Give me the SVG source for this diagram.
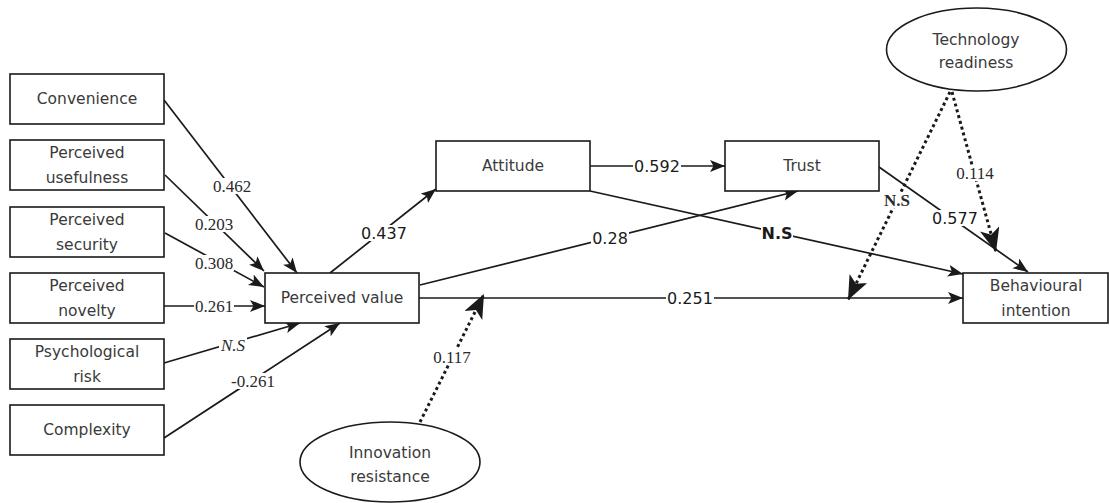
<svg xmlns="http://www.w3.org/2000/svg" width="1110" height="503" viewBox="0 0 1110 503">
<style>
.box{fill:#fff;stroke:#1a1a1a;stroke-width:1.6}
.nt{font-family:"DejaVu Sans",sans-serif;font-size:15.5px;fill:#3a3a3a;text-anchor:middle;dominant-baseline:central}
.ln{fill:none;stroke:#1a1a1a;stroke-width:1.7}
.dot{fill:none;stroke:#1a1a1a;stroke-width:3;stroke-dasharray:3 3}
.bg{fill:#fff}
.ls{font-family:"DejaVu Sans",sans-serif;font-size:16px;fill:#1a1a1a;text-anchor:middle;dominant-baseline:central}
.lr{font-family:"Liberation Serif",serif;font-size:17px;fill:#2a2a2a;text-anchor:middle;dominant-baseline:central}
</style>
<defs>
<marker id="a" markerUnits="userSpaceOnUse" markerWidth="16" markerHeight="14" refX="15" refY="6" orient="auto"><path d="M0,0 L15,6 L0,12 L3.5,6 z" fill="#1a1a1a"/></marker>
<marker id="b" markerUnits="userSpaceOnUse" markerWidth="26" markerHeight="22" refX="24" refY="10" orient="auto"><path d="M0,0 L24,10 L0,20 L6,10 z" fill="#1a1a1a"/></marker>
</defs>
<rect width="1110" height="503" fill="#fff"/>
<g id="connectors">
<line class="ln" x1="164" y1="100" x2="297" y2="273" marker-end="url(#a)"/>
<line class="ln" x1="165" y1="175" x2="264" y2="271" marker-end="url(#a)"/>
<line class="ln" x1="165" y1="233" x2="264" y2="287" marker-end="url(#a)"/>
<line class="ln" x1="164" y1="306" x2="265" y2="306" marker-end="url(#a)"/>
<line class="ln" x1="164" y1="363" x2="300" y2="323" marker-end="url(#a)"/>
<line class="ln" x1="164" y1="438" x2="340" y2="323" marker-end="url(#a)"/>
<line class="ln" x1="330" y1="273" x2="436" y2="189" marker-end="url(#a)"/>
<line class="ln" x1="590" y1="166" x2="725" y2="166" marker-end="url(#a)"/>
<line class="ln" x1="420" y1="285" x2="798" y2="191" marker-end="url(#a)"/>
<line class="ln" x1="590" y1="191" x2="963" y2="274" marker-end="url(#a)"/>
<line class="ln" x1="419" y1="298" x2="963" y2="298" marker-end="url(#a)"/>
<line class="ln" x1="879" y1="167" x2="1028" y2="272" marker-end="url(#a)"/>
<line class="dot" x1="952" y1="92" x2="996" y2="252" marker-end="url(#b)"/>
<line class="dot" x1="950" y1="92" x2="848" y2="300" marker-end="url(#b)"/>
<line class="dot" x1="420" y1="422" x2="484" y2="294" marker-end="url(#b)"/>
<rect class="bg" x="212" y="178" width="40" height="16"/>
<rect class="bg" x="194" y="216" width="40" height="16"/>
<rect class="bg" x="194" y="255" width="40" height="16"/>
<rect class="bg" x="194" y="298" width="40" height="16"/>
<rect class="bg" x="219" y="337" width="28" height="16"/>
<rect class="bg" x="230" y="373" width="46" height="16"/>
<rect class="bg" x="360" y="225" width="48" height="16"/>
<rect class="bg" x="633" y="158" width="48" height="16"/>
<rect class="bg" x="591" y="230" width="38" height="16"/>
<rect class="bg" x="761" y="225" width="32" height="16"/>
<rect class="bg" x="666" y="290" width="48" height="16"/>
<rect class="bg" x="931" y="210" width="48" height="16"/>
<rect class="bg" x="955" y="165" width="40" height="16"/>
<rect class="bg" x="883" y="192" width="28" height="16"/>
<rect class="bg" x="432" y="349" width="40" height="16"/>
<text class="lr" x="232" y="186">0.462</text>
<text class="lr" x="214" y="224">0.203</text>
<text class="lr" x="214" y="263">0.308</text>
<text class="lr" x="214" y="306">0.261</text>
<text class="lr" x="233" y="345" font-style="italic">N.S</text>
<text class="lr" x="253" y="381">-0.261</text>
<text class="ls" x="384" y="233">0.437</text>
<text class="ls" x="657" y="166">0.592</text>
<text class="ls" x="610" y="238">0.28</text>
<text class="ls" x="777" y="233" font-weight="bold">N.S</text>
<text class="ls" x="690" y="298">0.251</text>
<text class="ls" x="955" y="218">0.577</text>
<text class="lr" x="975" y="173">0.114</text>
<text class="lr" x="897" y="200" font-weight="bold">N.S</text>
<text class="lr" x="452" y="357">0.117</text>
</g>
<g id="convenience"><rect class="box" x="10" y="74" width="154" height="50"/><text class="nt" x="87" y="99">Convenience</text></g>
<g id="perceived-usefulness"><rect class="box" x="10" y="140" width="154" height="50"/><text class="nt" x="87" y="153">Perceived</text><text class="nt" x="87" y="178">usefulness</text></g>
<g id="perceived-security"><rect class="box" x="10" y="207" width="154" height="50"/><text class="nt" x="87" y="220">Perceived</text><text class="nt" x="87" y="245">security</text></g>
<g id="perceived-novelty"><rect class="box" x="10" y="273" width="154" height="50"/><text class="nt" x="87" y="286">Perceived</text><text class="nt" x="87" y="311">novelty</text></g>
<g id="psychological-risk"><rect class="box" x="10" y="339" width="154" height="50"/><text class="nt" x="87" y="352">Psychological</text><text class="nt" x="87" y="377">risk</text></g>
<g id="complexity"><rect class="box" x="10" y="405" width="154" height="50"/><text class="nt" x="87" y="430">Complexity</text></g>
<g id="perceived-value"><rect class="box" x="265" y="273" width="154" height="50"/><text class="nt" x="342" y="298">Perceived value</text></g>
<g id="attitude"><rect class="box" x="436" y="141" width="154" height="50"/><text class="nt" x="513" y="166">Attitude</text></g>
<g id="trust"><rect class="box" x="725" y="141" width="154" height="50"/><text class="nt" x="802" y="166">Trust</text></g>
<g id="behavioural-intention"><rect class="box" x="963" y="273" width="145" height="50"/><text class="nt" x="1036" y="286">Behavioural</text><text class="nt" x="1036" y="311">intention</text></g>
<g id="technology-readiness"><ellipse class="box" cx="976.5" cy="49.5" rx="90" ry="41.5"/><text class="nt" x="976" y="40">Technology</text><text class="nt" x="976" y="63">readiness</text></g>
<g id="innovation-resistance"><ellipse class="box" cx="390" cy="462" rx="90" ry="40"/><text class="nt" x="390" y="453">Innovation</text><text class="nt" x="390" y="477">resistance</text></g>
</svg>
